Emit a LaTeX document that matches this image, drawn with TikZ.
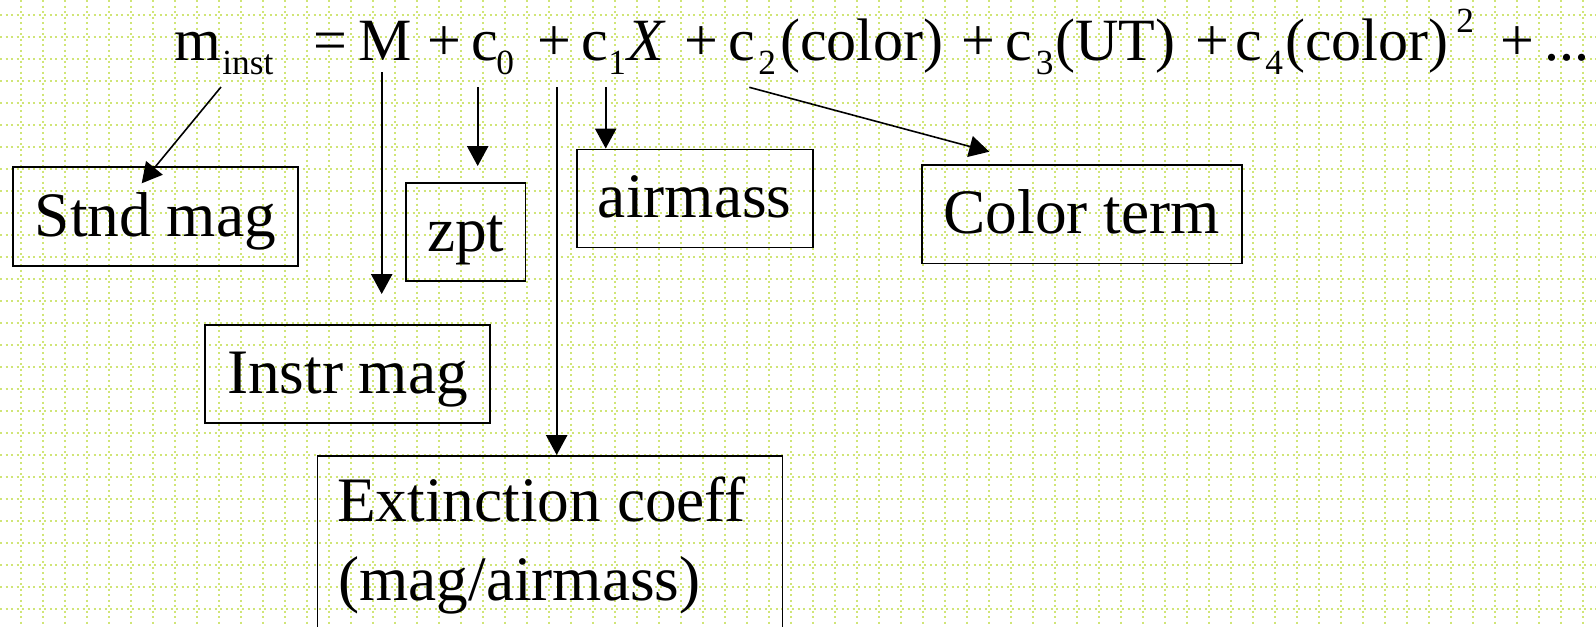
\documentclass[tikz,border=0pt]{standalone}
\usepackage{fontspec}
\setmainfont{Liberation Serif}
\usetikzlibrary{arrows.meta}
\definecolor{gridc}{RGB}{208,229,118}
\begin{document}
\begin{tikzpicture}[x=0.75pt,y=-0.75pt,
  eqf/.style={inner sep=0pt, anchor=base west, font=\fontsize{45}{54}\selectfont},
  subf/.style={inner sep=0pt, anchor=base west, font=\fontsize{26.5}{32}\selectfont},
  boxn/.style={draw, line width=1.2pt, inner sep=0pt, font=\fontsize{47.5}{57}\selectfont, text height=30pt, text depth=0.75pt},
  boxt/.style={inner sep=0pt, anchor=base west, font=\fontsize{47.5}{57}\selectfont},
  arr/.style={line width=1.2pt, -{Triangle[length=15pt,width=16pt]}},
  gridl/.style={gridc, line width=1.7pt, dash pattern=on 1.7pt off 2.425pt}]
\useasboundingbox (0,0) rectangle (1596,626);
\fill[white] (0,0) rectangle (1596,626);
\begin{scope}
\clip (0,0) rectangle (1596,626);
\foreach \k in {0,...,72} \draw[gridl] (20.7+22*\k,0) -- (20.7+22*\k,626);
\foreach \k in {0,...,28} \draw[gridl] (0,15+22*\k) -- (1596,15+22*\k);

% equation
\node[eqf] (m) at (174,60) {m};
\node[subf] (inst) at (222,74) {inst};
\node[eqf] (eq) at (313.5,60) {=};
\node[eqf] (M) at (358,60) {M};
\node[eqf] (p1) at (427,60) {+};
\node[eqf] (c0) at (471.5,60) {c};
\node[subf] (s0) at (496,74) {0};
\node[eqf] (p2) at (537,60) {+};
\node[eqf] (c1) at (581.5,60) {c};
\node[subf] (s1) at (608,74) {1};
\node[eqf] (X) at (627,60) {\itshape X};
\node[eqf] (p3) at (684,60) {+};
\node[eqf] (c2) at (728.5,60) {c};
\node[subf] (s2) at (758,74) {2};
\node[eqf] (col1) at (780,60) {(color)};
\node[eqf] (p4) at (961,60) {+};
\node[eqf] (c3) at (1005.5,60) {c};
\node[subf] (s3) at (1035.5,74) {3};
\node[eqf] (ut) at (1055,60) {(UT)};
\node[eqf] (p5) at (1195,60) {+};
\node[eqf] (c4) at (1235.5,60) {c};
\node[subf] (s4) at (1265,74) {4};
\node[eqf] (col2) at (1285,60) {(color)};
\node[subf] (sq) at (1456,32) {2};
\node[eqf] (p6) at (1500,60) {+};
\node[eqf] (dots) at (1544,60) {...};

% boxes
\node[boxn, minimum width=213.75pt, minimum height=74.25pt] (stnd) at (155.5,216.5) {Stnd mag};
\node[boxn, minimum width=89.8pt, minimum height=73.7pt] (zpt) at (465.8,231.85) {zpt};
\node[boxn, minimum width=177pt, minimum height=73.5pt] (air) at (694.7,198.3) {airmass};
\node[boxn, minimum width=240pt, minimum height=73.7pt] (colt) at (1081.7,214.2) {Color term};
\node[boxn, minimum width=213.75pt, minimum height=73.5pt] (instr) at (347.5,374) {Instr mag};
\node[draw, line width=1.2pt, inner sep=0pt, anchor=north west, minimum width=348.75pt, minimum height=187.5pt] (ext) at (316.7,455) {};
\node[boxt] (ext1) at (337,521.7) {Extinction coeff};
\node[boxt] (ext2) at (338,600) {(mag/airmass)};

% arrows
\coordinate (sm) at (221,87);
\coordinate (tm) at (141.7,183.3);
\coordinate (sM) at (381.7,72);
\coordinate (tM) at (381.7,294);
\coordinate (sz) at (477.7,87.3);
\coordinate (tz) at (477.7,166);
\coordinate (se) at (556.7,87.3);
\coordinate (sa) at (605.7,87.3);
\coordinate (sc) at (749.3,87.3);
\coordinate (tc) at (989.3,151.7);
\draw[arr] (sm) -- (tm);
\draw[arr] (sM) -- (tM);
\draw[arr] (sz) -- (tz);
\draw[arr] (se) -- (se |- ext.north);
\draw[arr] (sa) -- (sa |- air.north);
\draw[arr] (sc) -- (tc);
\end{scope}
\end{tikzpicture}
\end{document}
